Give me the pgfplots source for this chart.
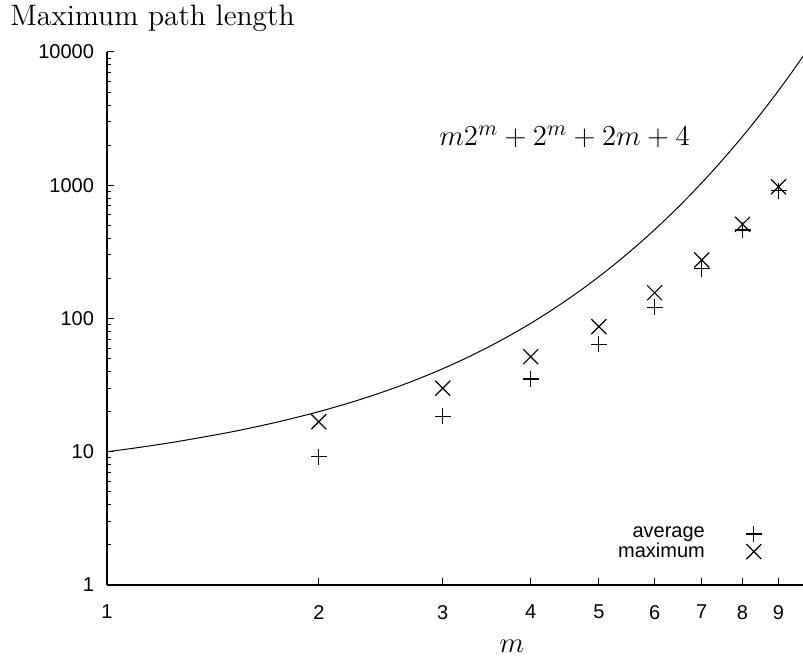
\documentclass[border=0pt]{standalone}
\usepackage{fontspec}
\usepackage{pgfplots}
\pgfplotsset{compat=1.18}
\newfontfamily\lsans{Liberation Sans}
\begin{document}
\begin{tikzpicture}
\useasboundingbox (-53.5pt,-37.5pt) rectangle (348pt,292.5pt);
\begin{axis}[
  at={(0,0)}, anchor=south west,
  scale only axis, width=348pt, height=266.5pt,
  xmode=log, ymode=log,
  xmin=1, xmax=9.75, ymin=1, ymax=10000,
  axis x line*=bottom, axis y line*=left,
  axis line style={line width=0.9pt,-},
  tick align=inside,
  major tick length=3.5pt, minor tick length=2pt,
  every tick/.style={line width=0.5pt, black},
  xtick={1,2,3,4,5,6,7,8,9}, xticklabels={1,2,3,4,5,6,7,8,9},
  minor xtick={},
  ytick={1,10,100,1000,10000}, yticklabels={1,10,100,1000,10000},
  tick label style={font=\lsans\fontsize{10}{12}\selectfont},
  xticklabel style={yshift=-6.5pt},
  yticklabel style={xshift=-3pt},
  clip=true,
  legend style={draw=none, fill=none, font=\lsans\fontsize{10}{11}\selectfont,
    at={(axis description cs:0.950,0.0774)}, anchor=east, row sep=-3pt,
    /tikz/every odd column/.append style={column sep=18.5pt}},
  legend cell align=right,
  legend plot pos=right,
]
\addplot[black, line width=0.5pt, smooth, forget plot] coordinates {
(1,10) (1.1,10.70) (1.25,11.85) (1.5,14.07) (1.75,16.75) (2,20) (2.25,23.96) (2.5,28.80)
(2.75,34.73) (3,42) (3.25,50.93) (3.5,61.91) (3.75,75.41) (4,92) (4.25,112.39)
(4.5,137.45) (4.75,168.23) (5,206) (5.25,252.34) (5.5,309.16) (5.75,378.77) (6,464)
(6.25,568.29) (6.5,695.82) (6.75,851.67) (7,1042) (7.25,1274.3) (7.5,1557.7)
(7.75,1903.1) (8,2324) (8.25,2836.5) (8.5,3460.4) (8.75,4219.3) (9,5142)
(9.25,6263.5) (9.5,7625.8) (9.75,9280.1) (10,11288)
};
\addplot[only marks, mark=+, mark size=4pt, mark options={line width=0.6pt}, black] coordinates {
(2,9.18) (3,18.5) (4,35.2) (5,64) (6,121) (7,236) (8,462) (9,910)
};
\addlegendentry{average}
\addplot[only marks, mark=x, mark size=5.3pt, mark options={line width=0.6pt}, black] coordinates {
(2,16.8) (3,30) (4,51.7) (5,86.8) (6,156) (7,275) (8,509) (9,975)
};
\addlegendentry{maximum}
\node[anchor=base west, inner sep=0pt, font=\fontsize{15}{18}\selectfont] at (axis cs:2.962,1972) {$m2^m+2^m+2m+4$};
\end{axis}
\node[anchor=west, inner sep=0pt, font=\fontsize{14.8}{17}\selectfont] at (-48.5pt,283.5pt) {Maximum path length};
\node[font=\fontsize{15}{18}\selectfont] at (202.5pt,-30.5pt) {$m$};
\end{tikzpicture}
\end{document}
